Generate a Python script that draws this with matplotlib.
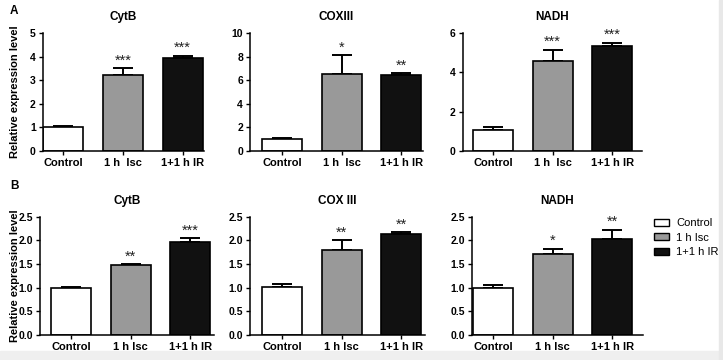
import matplotlib
matplotlib.use("Agg")
import matplotlib.pyplot as plt
from matplotlib.patches import Patch, Rectangle

plt.rcParams['font.family'] = ['Liberation Sans', 'DejaVu Sans']

# ---------------- data ----------------
groups = ["Control", "1 h  Isc", "1+1 h IR"]
groups_b = ["Control", "1 h Isc", "1+1 h IR"]

titles_a = ["CytB", "COXIII", "NADH"]
means_a = [[1.00, 3.20, 3.95], [1.00, 6.55, 6.40], [1.05, 4.60, 5.35]]
errs_a = [[0.05, 0.30, 0.08], [0.10, 1.55, 0.20], [0.15, 0.55, 0.15]]
stars_a = [["", "***", "***"], ["", "*", "**"], ["", "***", "***"]]
ymax_a = [5, 10, 6]
yticks_a = [[0, 1, 2, 3, 4, 5], [0, 2, 4, 6, 8, 10], [0, 2, 4, 6]]

titles_b = ["CytB", "COX III", "NADH"]
means_b = [[1.00, 1.48, 1.97], [1.01, 1.79, 2.13], [1.00, 1.71, 2.03]]
errs_b = [[0.01, 0.02, 0.07], [0.06, 0.21, 0.04], [0.05, 0.11, 0.19]]
stars_b = [["", "**", "***"], ["", "**", "**"], ["", "*", "**"]]
ymax_b = [2.5, 2.5, 2.5]
yticks_b = [[0.0, 0.5, 1.0, 1.5, 2.0, 2.5]] * 3

colors = ["white", "#999999", "#111111"]

# ---------------- layout (pixels) ----------------
W, H = 723, 360
fig = plt.figure(figsize=(W / 100, H / 100), dpi=100)
fig.patch.set_facecolor("white")
fig.add_artist(Rectangle((0, 0), 1, 9 / H, transform=fig.transFigure,
                         color="#efefef", zorder=-5))
fig.add_artist(Rectangle((719 / W, 0), 4 / W, 1, transform=fig.transFigure,
                         color="#e8e8e8", zorder=-5))

spacing = 59.6
# (axis left px, axis right px, first bar centre px)
xl_a = [(42.7, 204, 63.3), (250, 423, 282), (462.7, 642, 493)]
xl_b = [(40, 214, 71), (250, 425, 282), (472, 643, 493)]
row_y = [(33, 151), (216.7, 335)]  # top px, bottom px


def draw(ax, means, errs, stars, title, ymax, yticks, labels, fmt):
    x = list(range(len(means)))
    ax.bar(x, means, width=40 / spacing, color=colors, edgecolor="black",
           linewidth=1.2, zorder=2)
    ax.errorbar(x, means, yerr=[[0] * len(errs), errs], fmt="none",
                ecolor="black", elinewidth=1.4, capsize=7.5, capthick=1.4,
                zorder=1)
    for xi, m, e, s in zip(x, means, errs, stars):
        if s:
            ax.annotate(s, (xi, m + e), xytext=(0, 0.5), textcoords="offset points",
                        ha="center", va="bottom", fontsize=10.5, color="#222222")
    ax.set_ylim(0, ymax)
    ax.set_yticks(yticks)
    ax.set_yticklabels([fmt.format(v) for v in yticks], fontsize=7.5, fontweight="bold")
    ax.set_xticks(x)
    ax.set_xticklabels(labels, fontsize=8, fontweight="bold")
    ax.set_title(title, fontsize=8.5, fontweight="bold", pad=9)
    for sp in ["top", "right"]:
        ax.spines[sp].set_visible(False)
    for sp in ["left", "bottom"]:
        ax.spines[sp].set_linewidth(1.1)
    ax.tick_params(axis="both", length=3, width=1, pad=2)
    ax.set_facecolor("none")


for row, (xls, ms, es, ss, ts, ym, yt, labels, fmt) in enumerate([
        (xl_a, means_a, errs_a, stars_a, titles_a, ymax_a, yticks_a, groups, "{:g}"),
        (xl_b, means_b, errs_b, stars_b, titles_b, ymax_b, yticks_b, groups_b, "{:.1f}")]):
    top, bot = row_y[row]
    for i in range(3):
        lpx, rpx, c0 = xls[i]
        ax = fig.add_axes([lpx / W, (H - bot) / H, (rpx - lpx) / W, (bot - top) / H])
        draw(ax, ms[i], es[i], ss[i], ts[i], ym[i], yt[i], labels, fmt)
        ax.set_xlim((lpx - c0) / spacing, (rpx - c0) / spacing)
        if i == 0:
            ax.set_ylabel("Relative expression level", fontsize=8, fontweight="bold")
            ax.yaxis.set_label_coords(20 / W, 1 - (top + bot) / 2 / H,
                                      transform=fig.transFigure)

fig.text(10 / W, 1 - 11 / H, "A", fontsize=8.5, fontweight="bold", ha="left", va="center")
fig.text(10 / W, 1 - 186 / H, "B", fontsize=8.5, fontweight="bold", ha="left", va="center")

handles = [Patch(facecolor=c, edgecolor="black", linewidth=1.0) for c in colors]
fig.legend(handles, ["Control", "1 h Isc", "1+1 h IR"], loc="upper left",
           bbox_to_anchor=(652 / W, 1 - 216 / H), frameon=False, fontsize=8,
           handlelength=1.3, handleheight=0.6, handletextpad=0.7, labelspacing=0.4,
           borderaxespad=0, borderpad=0.2)

fig.savefig("out.png", dpi=100)
